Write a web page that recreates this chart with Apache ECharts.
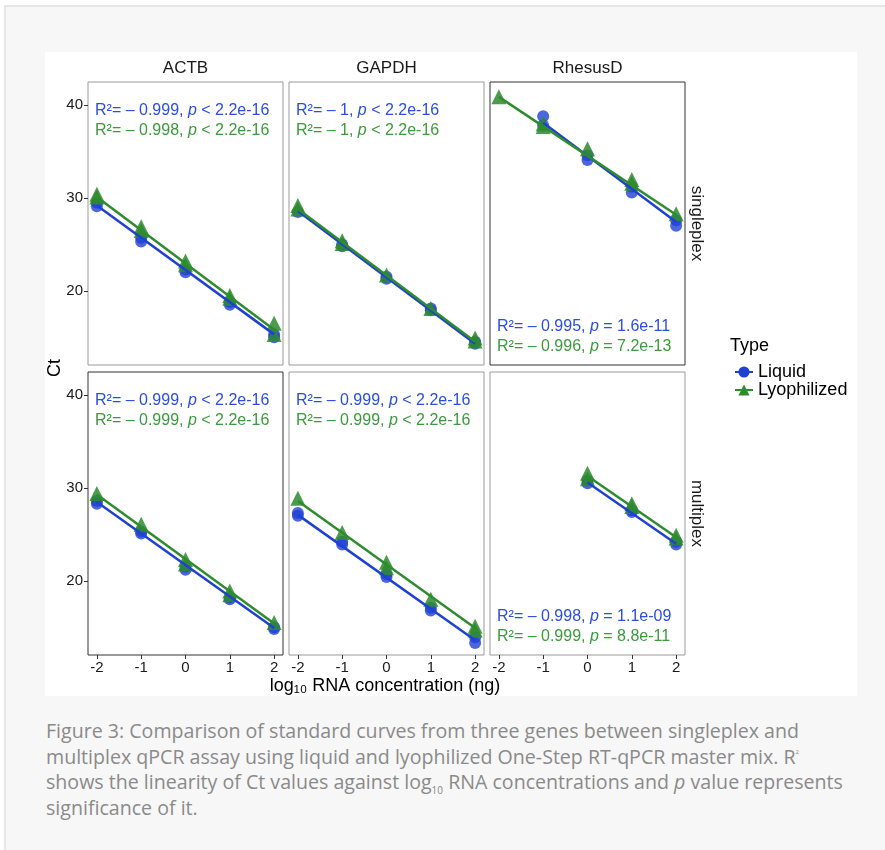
<!DOCTYPE html>
<html>
<head>
<meta charset="utf-8">
<script src="https://cdn.jsdelivr.net/npm/echarts@6/dist/echarts.min.js"></script>
<style>
  body { margin: 0; background: #fff; }
  #frame { position: absolute; left: 4px; top: 5px; width: 881px; height: 845px; background: #f7f7f7;
           border-left: 2px solid #e6e6e6; border-top: 2px solid #e6e6e6; box-sizing: border-box; }
  #main { position: absolute; left: 45px; top: 52px; width: 812px; height: 644px; background: #fff; }
  #caption { position: absolute; left: 46px; top: 718px; width: 835px; font-family: "Open Sans", sans-serif;
             font-size: 19.6px; line-height: 25.5px; color: #8a8a8a; letter-spacing: 0px; }
  #caption sup { font-size: 6px; vertical-align: 10px; line-height: 0; }
  #caption sub { font-size: 10px; vertical-align: -5px; line-height: 0; }
</style>
</head>
<body>
<div id="frame"></div>
<div id="main"></div>
<div id="caption">Figure 3: Comparison of standard curves from three genes between singleplex and<br>multiplex qPCR assay using liquid and lyophilized One-Step RT-qPCR master mix. R<sup>2</sup><br>shows the linearity of Ct values against log<sub>10</sub> RNA concentrations and <i>p</i> value represents<br>significance of it.</div>
<script>
// panel order: singleplex ACTB, GAPDH, RhesusD, multiplex ACTB, GAPDH, RhesusD
var genes = ['ACTB', 'GAPDH', 'RhesusD'];
var assays = ['singleplex', 'multiplex'];
var xTicks = [-2, -1, 0, 1, 2];
var yTicks = [20, 30, 40];

// Ct points [log10 conc, Ct]
var actbSingleLiquid = [[-2, 29.1], [-2, 29.5], [-1, 25.3], [-1, 25.7], [0, 22.0], [0, 22.3], [1, 18.5], [1, 18.8], [2, 15.0], [2, 15.3]];
var actbSingleLyo = [[-2, 30.4], [-2, 30.1], [-1, 26.9], [-1, 26.5], [0, 23.2], [0, 22.8], [1, 19.5], [1, 19.2], [2, 16.5], [2, 15.3]];
var gapdhSingleLiquid = [[-2, 28.5], [-1, 24.8], [-1, 25.0], [0, 21.3], [0, 21.5], [1, 17.9], [1, 18.1], [2, 14.3], [2, 14.5]];
var gapdhSingleLyo = [[-2, 29.2], [-2, 28.8], [-1, 25.4], [-1, 25.1], [0, 21.7], [1, 18.1], [2, 14.9], [2, 14.6]];
var rhdSingleLiquid = [[-1, 38.8], [-1, 37.8], [0, 34.1], [0, 34.6], [1, 30.6], [1, 31.2], [2, 27.0], [2, 27.6]];
var rhdSingleLyo = [[-2, 40.9], [-1, 37.7], [-1, 38.0], [0, 35.3], [1, 32.0], [1, 31.6], [2, 28.3]];
var actbMultiLiquid = [[-2, 28.3], [-2, 28.6], [-1, 25.1], [-1, 25.3], [0, 21.2], [0, 21.5], [1, 18.0], [1, 18.2], [2, 14.8], [2, 15.0]];
var actbMultiLyo = [[-2, 29.4], [-1, 26.1], [0, 22.3], [0, 21.8], [1, 18.9], [1, 18.5], [2, 15.5]];
var gapdhMultiLiquid = [[-2, 27.0], [-2, 27.3], [-1, 23.9], [-1, 24.2], [0, 20.4], [0, 20.7], [1, 16.8], [1, 17.1], [2, 13.3], [2, 13.9]];
var gapdhMultiLyo = [[-2, 28.9], [-1, 25.2], [0, 22.0], [0, 21.4], [1, 18.0], [2, 15.1], [2, 14.7]];
var rhdMultiLiquid = [[0, 30.5], [0, 30.8], [1, 27.4], [1, 27.6], [2, 23.9], [2, 24.2]];
var rhdMultiLyo = [[0, 31.6], [0, 31.0], [1, 28.3], [1, 28.0], [2, 24.9], [2, 24.6]];

// fitted lines (ends)
var fitLiquid = [
    [[-2, 29.2], [2, 15.3]], [[-2, 28.6], [2, 14.3]], [[-1, 38.1], [2, 27.4]],
    [[-2, 28.5], [2, 14.9]], [[-2, 27.1], [2, 13.6]], [[0, 30.6], [2, 24.0]]
];
var fitLyo = [
    [[-2, 30.1], [2, 15.8]], [[-2, 28.8], [2, 14.5]], [[-2, 40.9], [2, 28.2]],
    [[-2, 29.3], [2, 15.4]], [[-2, 28.6], [2, 14.9]], [[0, 31.3], [2, 24.7]]
];

var statsLiquid = [['0.999', '<', '2.2e-16'], ['1', '<', '2.2e-16'], ['0.995', '=', '1.6e-11'],
                   ['0.999', '<', '2.2e-16'], ['0.999', '<', '2.2e-16'], ['0.998', '=', '1.1e-09']];
var statsLyo = [['0.998', '<', '2.2e-16'], ['1', '<', '2.2e-16'], ['0.996', '=', '7.2e-13'],
                ['0.999', '<', '2.2e-16'], ['0.999', '<', '2.2e-16'], ['0.999', '=', '8.8e-11']];

var liquidPoints = [actbSingleLiquid, gapdhSingleLiquid, rhdSingleLiquid, actbMultiLiquid, gapdhMultiLiquid, rhdMultiLiquid];
var lyoPoints = [actbSingleLyo, gapdhSingleLyo, rhdSingleLyo, actbMultiLyo, gapdhMultiLyo, rhdMultiLyo];

var blue = '#1f41d3', green = '#2e8b2e';
var blueText = '#2b4de0', greenText = '#3b9a3b';
var font = 'Liberation Sans, Arial, sans-serif';

var gridLeft = [43, 244, 445];
var gridTop = [30, 320];
var gridW = 195, gridH = 283;
var darkBorder = [2, 3];

var chart = echarts.init(document.getElementById('main'));
var grids = [], xAxes = [], yAxes = [], series = [], graphics = [];

for (let i = 0; i < 6; i++) {
    let row = Math.floor(i / 3), col = i % 3;
    grids.push({
        left: gridLeft[col], top: gridTop[row], width: gridW, height: gridH,
        show: true, backgroundColor: '#fff',
        borderColor: darkBorder.indexOf(i) >= 0 ? '#333' : '#9a9a9a', borderWidth: 1
    });
    xAxes.push({
        gridIndex: i, type: 'value', min: -2.2, max: 2.2,
        axisLine: { show: false, onZero: false }, splitLine: { show: false },
        axisTick: { show: row === 1, length: 4, lineStyle: { color: '#333' }, customValues: xTicks },
        axisLabel: { show: row === 1, customValues: xTicks, color: '#1a1a1a', fontSize: 15, fontFamily: font, margin: 5 }
    });
    yAxes.push({
        gridIndex: i, type: 'value', min: 12.0, max: 42.5,
        axisLine: { show: false, onZero: false }, splitLine: { show: false },
        axisTick: { show: col === 0, length: 4, lineStyle: { color: '#333' }, customValues: yTicks },
        axisLabel: { show: col === 0, customValues: yTicks, color: '#1a1a1a', fontSize: 15, fontFamily: font, margin: 5 }
    });
    series.push({
        name: 'Liquid', type: 'line', xAxisIndex: i, yAxisIndex: i, data: fitLiquid[i],
        symbol: 'circle', symbolSize: 12, showSymbol: false, silent: true, z: 4,
        lineStyle: { color: blue, width: 2.5 }, itemStyle: { color: blue }
    });
    series.push({
        name: 'Lyophilized', type: 'line', xAxisIndex: i, yAxisIndex: i, data: fitLyo[i],
        symbol: 'triangle', symbolSize: 14, showSymbol: false, silent: true, z: 4,
        lineStyle: { color: green, width: 2.5 }, itemStyle: { color: green }
    });
    series.push({
        name: 'Liquid', type: 'scatter', xAxisIndex: i, yAxisIndex: i, data: liquidPoints[i],
        symbol: 'circle', symbolSize: 12, z: 2, itemStyle: { color: blue, opacity: 0.8 }
    });
    series.push({
        name: 'Lyophilized', type: 'scatter', xAxisIndex: i, yAxisIndex: i, data: lyoPoints[i],
        symbol: 'triangle', symbolSize: 15, z: 3, itemStyle: { color: green, opacity: 0.85 }
    });

    // R2 / p annotations
    let bottom = col === 2;
    let y1 = gridTop[row] + (bottom ? 246 : 30);
    [[statsLiquid[i], blueText], [statsLyo[i], greenText]].forEach(function (s, k) {
        let st = s[0];
        graphics.push({
            type: 'text', left: gridLeft[col] + 7, top: y1 + k * 20 - 9,
            style: {
                text: '{n|R\u00b2= \u2013 ' + st[0] + ', }{i|p}{n| ' + st[1] + ' ' + st[2] + '}',
                rich: {
                    n: { fontSize: 16, fontFamily: font, fill: s[1] },
                    i: { fontSize: 16, fontFamily: font, fontStyle: 'italic', fill: s[1] }
                }
            }
        });
    });
}

// strip labels
genes.forEach(function (g, c) {
    graphics.push({
        type: 'text', x: gridLeft[c] + gridW / 2, y: 16,
        style: { text: g, fontSize: 17, fontFamily: font, fill: '#1a1a1a', align: 'center', verticalAlign: 'middle' }
    });
});
assays.forEach(function (a, r) {
    graphics.push({
        type: 'text', x: 652, y: gridTop[r] + gridH / 2, rotation: -Math.PI / 2,
        style: { text: a, fontSize: 17, fontFamily: font, fill: '#1a1a1a', align: 'center', verticalAlign: 'middle' }
    });
});
graphics.push({
    type: 'text', x: 10, y: 316, rotation: Math.PI / 2,
    style: { text: 'Ct', fontSize: 18, fontFamily: font, fill: '#000', align: 'center', verticalAlign: 'middle' }
});
graphics.push({
    type: 'text', x: 340, y: 634,
    style: { text: 'log\u2081\u2080 RNA concentration (ng)', fontSize: 18, fontFamily: font, fill: '#000', align: 'center', verticalAlign: 'middle' }
});
graphics.push({
    type: 'text', x: 685, y: 294,
    style: { text: 'Type', fontSize: 18, fontFamily: font, fill: '#000', verticalAlign: 'middle' }
});

chart.setOption({
    animation: false,
    grid: grids,
    xAxis: xAxes,
    yAxis: yAxes,
    legend: {
        data: ['Liquid', 'Lyophilized'],
        orient: 'vertical', left: 684, top: 306,
        itemWidth: 18, itemHeight: 14, itemGap: 0,
        textStyle: { fontSize: 18, fontFamily: font, color: '#000' }
    },
    graphic: graphics,
    series: series
});
</script>
</body>
</html>
